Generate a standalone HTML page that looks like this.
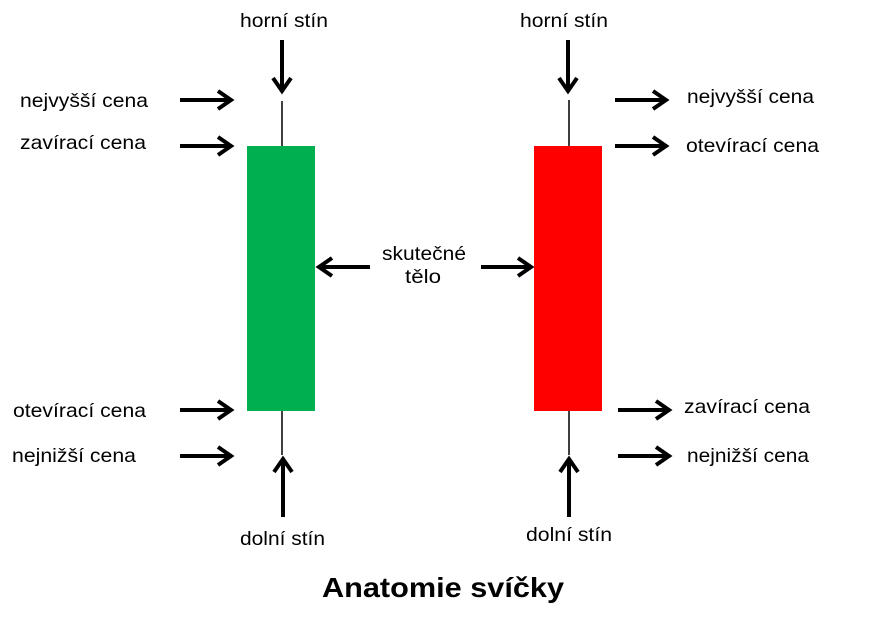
<!DOCTYPE html>
<html><head><meta charset="utf-8"><style>
html,body{margin:0;padding:0;background:#fff}
svg{display:block}
text{font-family:"Liberation Sans",Arial,sans-serif;font-size:19.5px;fill:#000}
</style></head><body>
<svg width="873" height="630" viewBox="0 0 873 630" xmlns="http://www.w3.org/2000/svg">
<!-- candles -->
<line x1="282" y1="101" x2="282" y2="146" stroke="#000" stroke-width="1.5"/>
<line x1="282" y1="411" x2="282" y2="455" stroke="#000" stroke-width="1.5"/>
<rect x="247" y="146" width="68" height="265" fill="#00b050"/>
<line x1="569" y1="100" x2="569" y2="146" stroke="#000" stroke-width="1.5"/>
<line x1="569" y1="411" x2="569" y2="455" stroke="#000" stroke-width="1.5"/>
<rect x="534" y="146" width="68" height="265" fill="#ff0000"/>
<!-- arrows -->
<g stroke="#000" stroke-width="4" fill="none" stroke-linecap="butt" stroke-linejoin="miter">
<path d="M282 40V90M273 78L282 91L291 78"/>
<path d="M568 40V90M559 78L568 91L577 78"/>
<path d="M283 517V460M274 472L283 459L292 472"/>
<path d="M569 517V460M560 472L569 459L578 472"/>
<path d="M180 100H230M218 91L231 100L218 109"/>
<path d="M180 146H230M218 137L231 146L218 155"/>
<path d="M180 410H230M218 401L231 410L218 419"/>
<path d="M180 456H230M218 447L231 456L218 465"/>
<path d="M615 100H665M653 91L666 100L653 109"/>
<path d="M615 146H665M653 137L666 146L653 155"/>
<path d="M618 410H668M656 401L669 410L656 419"/>
<path d="M618 456H668M656 447L669 456L656 465"/>
<path d="M370 267H320M332 258L319 267L332 276"/>
<path d="M481 267H530M518 258L531 267L518 276"/>
</g>
<!-- labels -->
<text x="240" y="27" textLength="88" lengthAdjust="spacingAndGlyphs">horní  stín</text>
<text x="520" y="27" textLength="88" lengthAdjust="spacingAndGlyphs">horní  stín</text>
<text x="20" y="107" textLength="128" lengthAdjust="spacingAndGlyphs">nejvyšší cena</text>
<text x="20" y="149" textLength="126" lengthAdjust="spacingAndGlyphs">zavírací cena</text>
<text x="13" y="417" textLength="133" lengthAdjust="spacingAndGlyphs">otevírací cena</text>
<text x="12" y="462" textLength="124" lengthAdjust="spacingAndGlyphs">nejnižší  cena</text>
<text x="687" y="103" textLength="127" lengthAdjust="spacingAndGlyphs">nejvyšší cena</text>
<text x="686" y="152" textLength="133" lengthAdjust="spacingAndGlyphs">otevírací cena</text>
<text x="684" y="413" textLength="126" lengthAdjust="spacingAndGlyphs">zavírací cena</text>
<text x="687" y="462" textLength="122" lengthAdjust="spacingAndGlyphs">nejnižší  cena</text>
<text x="382" y="260" textLength="84" lengthAdjust="spacingAndGlyphs">skutečné</text>
<text x="405" y="283" textLength="36" lengthAdjust="spacingAndGlyphs">tělo</text>
<text x="240" y="545" textLength="85" lengthAdjust="spacingAndGlyphs">dolní  stín</text>
<text x="526" y="541" textLength="86" lengthAdjust="spacingAndGlyphs">dolní  stín</text>
<text x="322" y="597" textLength="242" lengthAdjust="spacingAndGlyphs" style="font-size:28px;font-weight:bold">Anatomie svíčky</text>
</svg>
</body></html>
